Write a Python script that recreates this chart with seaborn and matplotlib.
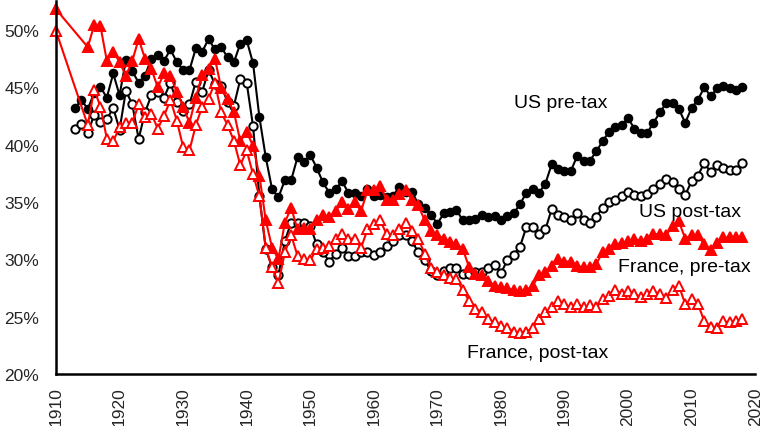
import pandas as pd
import seaborn as sns
import matplotlib
matplotlib.use("Agg")
from matplotlib import pyplot as plt
from matplotlib.ticker import FuncFormatter

# top 10% income share, %
us_years = list(range(1913, 2019))
us_pre = [43.2, 43.9, 43.1, 44.5, 45.0, 44.1, 46.2, 44.3, 47.4, 46.4,
          45.4, 46.0, 47.5, 47.8, 47.3, 48.3, 47.2, 46.5, 46.5, 48.4,
          48.1, 49.2, 48.3, 48.5, 47.6, 47.2, 48.8, 49.1, 47.1, 42.4,
          38.9, 36.1, 35.4, 36.9, 36.9, 38.9, 38.5, 39.1, 38.0, 36.7,
          35.8, 36.1, 36.8, 35.8, 35.8, 35.5, 36.1, 35.5, 35.6, 35.4,
          35.5, 36.3, 35.9, 35.9, 34.8, 34.5, 33.9, 33.1, 34.0, 34.1,
          34.3, 33.4, 33.4, 33.5, 33.9, 33.7, 33.8, 33.4, 33.8, 34.0,
          34.8, 35.8, 36.1, 35.8, 36.6, 38.3, 37.9, 37.7, 37.7, 39.0,
          38.6, 38.6, 39.4, 40.3, 41.1, 41.5, 41.7, 42.3, 41.4, 41.0,
          41.0, 41.9, 42.8, 43.6, 43.6, 43.1, 41.9, 43.2, 43.9, 45.0,
          44.2, 44.9, 45.1, 44.9, 44.8, 45.0]
us_post = [41.4, 41.8, 41.0, 42.6, 42.0, 42.2, 43.2, 41.3, 44.7, 43.5,
           40.5, 42.8, 44.3, 44.6, 44.1, 45.4, 43.7, 42.9, 43.5, 45.5,
           44.6, 46.5, 45.3, 45.1, 43.7, 43.4, 45.7, 45.4, 41.6, 35.5,
           30.9, 29.3, 28.6, 31.6, 33.2, 33.2, 33.2, 32.9, 31.3, 30.6,
           29.8, 30.5, 31.0, 30.3, 30.3, 30.6, 30.6, 30.4, 30.6, 31.2,
           31.6, 32.1, 32.1, 31.6, 30.6, 29.9, 29.0, 28.6, 29.0, 29.2,
           29.2, 28.7, 28.7, 28.9, 28.9, 29.2, 29.5, 28.8, 29.9, 30.4,
           31.1, 32.8, 32.8, 32.2, 32.6, 34.4, 33.9, 33.7, 33.4, 34.0,
           33.4, 33.2, 33.7, 34.5, 35.0, 35.2, 35.5, 35.9, 35.6, 35.5,
           35.7, 36.1, 36.6, 37.0, 36.7, 36.1, 35.6, 36.8, 37.3, 38.4,
           37.6, 38.2, 38.0, 37.8, 37.8, 38.4]

fr_years = [1910] + list(range(1915, 2019))
fr_pre = [51.8,
          48.5, 50.4, 50.3, 47.3, 48.1, 47.2, 46.0, 47.3, 49.2, 47.5,
          46.6, 45.0, 46.2, 46.0, 44.6, 43.3, 41.9, 44.1, 46.1, 46.6,
          47.5, 44.9, 44.0, 42.8, 40.3, 41.1, 39.9, 37.3, 33.4, 31.0,
          30.0, 33.2, 34.5, 32.6, 32.7, 32.6, 33.4, 33.9, 33.7, 34.2,
          35.0, 34.4, 35.0, 34.2, 36.0, 36.0, 36.4, 35.2, 35.2, 35.7,
          36.0, 35.2, 34.7, 33.4, 32.5, 32.1, 31.8, 31.5, 31.3, 30.9,
          29.3, 28.7, 28.6, 28.1, 27.7, 27.6, 27.5, 27.3, 27.2, 27.3,
          27.7, 28.6, 28.9, 29.4, 30.0, 29.8, 29.8, 29.4, 29.3, 29.3,
          29.6, 30.6, 30.9, 31.3, 31.4, 31.6, 31.8, 31.6, 31.8, 32.2,
          32.2, 32.1, 32.9, 33.3, 31.8, 32.1, 32.1, 31.3, 30.8, 31.4,
          31.9, 31.9, 31.9, 31.9]
fr_post = [49.9,
           41.7, 44.8, 43.3, 40.5, 40.3, 41.5, 41.9, 41.9, 43.5, 42.4,
           42.7, 41.4, 42.5, 43.9, 42.1, 39.8, 39.5, 41.7, 43.3, 44.0,
           45.4, 42.8, 41.7, 40.3, 38.2, 39.5, 37.4, 35.5, 31.0, 29.3,
           27.9, 30.6, 32.1, 30.3, 30.0, 29.9, 30.9, 31.0, 31.2, 31.8,
           32.2, 31.8, 31.8, 31.0, 32.6, 33.1, 33.4, 32.2, 32.1, 32.6,
           33.2, 32.5, 31.8, 30.5, 29.2, 28.9, 28.6, 28.4, 28.3, 27.3,
           26.4, 25.7, 25.4, 24.8, 24.5, 24.2, 24.0, 23.7, 23.6, 23.7,
           24.0, 24.8, 25.4, 25.8, 26.4, 26.1, 25.8, 26.1, 25.8, 26.0,
           25.8, 26.5, 26.8, 27.3, 27.0, 27.2, 27.0, 26.7, 27.0, 27.2,
           27.0, 26.6, 27.3, 27.7, 26.1, 26.5, 26.1, 24.6, 24.1, 24.0,
           24.6, 24.5, 24.6, 24.8]

x_ticks = list(range(1910, 2021, 10))
y_ticks = [20, 25, 30, 35, 40, 45, 50]

sns.set_style("white")
plt.rcParams["font.family"] = ["Liberation Sans", "DejaVu Sans"]

fig = plt.figure(figsize=(7.62, 4.27), dpi=100)
ax = fig.add_axes([0.0735, 0.1218, 0.9175, 0.873])

common = dict(ax=ax, linewidth=1.5, clip_on=False, markeredgewidth=1.4)
sns.lineplot(x=us_years, y=us_pre, color="black", marker="o", markersize=5.5,
             markerfacecolor="black", markeredgecolor="black", **common)
sns.lineplot(x=us_years, y=us_post, color="black", marker="o", markersize=6,
             markerfacecolor="white", markeredgecolor="black", **common)
sns.lineplot(x=fr_years, y=fr_pre, color="#ff0000", marker="^", markersize=6.5,
             markerfacecolor="#ff0000", markeredgecolor="#ff0000", **common)
sns.lineplot(x=fr_years, y=fr_post, color="#ff0000", marker="^", markersize=6.5,
             markerfacecolor="white", markeredgecolor="#ff0000", **common)

ax.set_xlim(1910, 2020)
ax.set_ylim(20, 52.5)
ax.set_xticks(x_ticks)
ax.set_yticks(y_ticks)
ax.yaxis.set_major_formatter(FuncFormatter(lambda v, p: f"{v:.0f}%"))
ax.tick_params(axis="x", length=0, pad=9, labelsize=12.5, labelrotation=90)
ax.tick_params(axis="y", length=0, pad=12, labelsize=12.5)
ax.set_xlabel("")
ax.set_ylabel("")

sns.despine(ax=ax)
for side in ["left", "bottom"]:
    ax.spines[side].set_linewidth(1.8)
    ax.spines[side].set_color("black")

txt = dict(fontsize=14, color="black", va="baseline", ha="left")
ax.text(1982.0, 43.3, "US pre-tax", **txt)
ax.text(2001.7, 33.75, "US post-tax", **txt)
ax.text(1998.5, 29.0, "France, pre-tax", **txt)
ax.text(1974.6, 21.45, "France, post-tax", **txt)

fig.savefig("out.png", dpi=100)
plt.close()
